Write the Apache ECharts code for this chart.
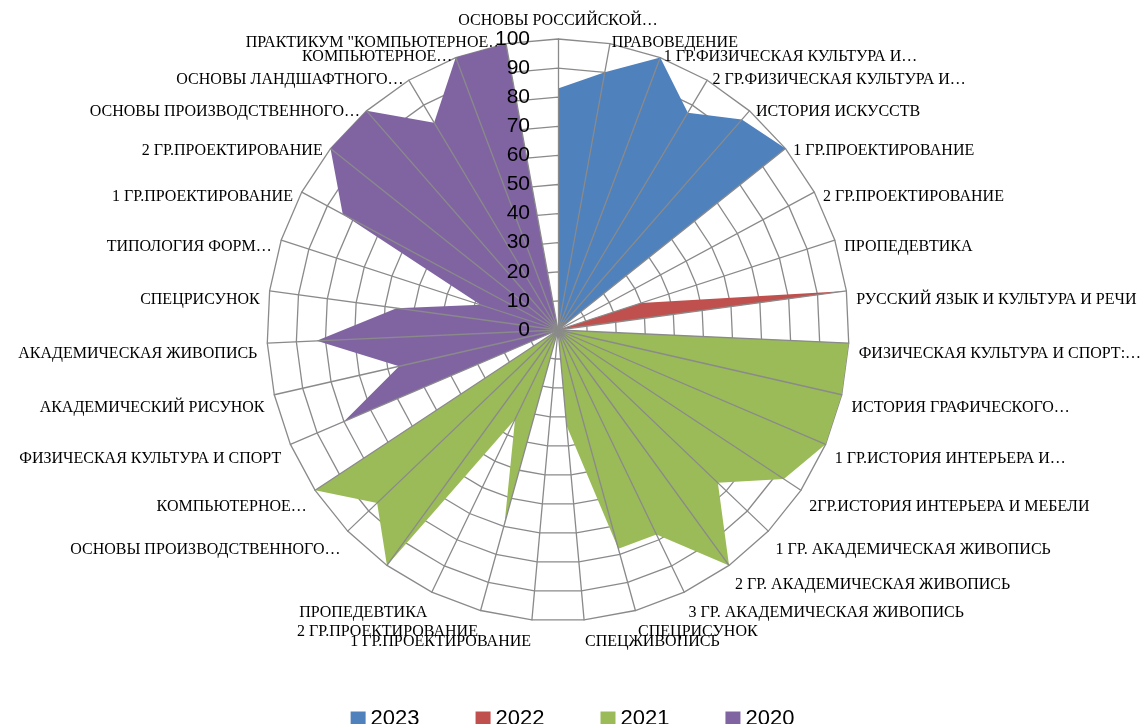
<!DOCTYPE html>
<html>
<head>
<meta charset="utf-8">
<script src="https://cdn.jsdelivr.net/npm/echarts@6/dist/echarts.min.js"></script>
<style>
html,body{margin:0;padding:0;background:#fff;}
#chart{width:1145px;height:724px;}
</style>
</head>
<body>
<div id="chart"></div>
<script>
// Categories in clockwise order starting from the top
const categories = [
  'ОСНОВЫ РОССИЙСКОЙ…', 'ПРАВОВЕДЕНИЕ', '1 ГР.ФИЗИЧЕСКАЯ КУЛЬТУРА И…', '2 ГР.ФИЗИЧЕСКАЯ КУЛЬТУРА И…',
  'ИСТОРИЯ ИСКУССТВ', '1 ГР.ПРОЕКТИРОВАНИЕ', '2 ГР.ПРОЕКТИРОВАНИЕ', 'ПРОПЕДЕВТИКА',
  'РУССКИЙ ЯЗЫК И КУЛЬТУРА И РЕЧИ', 'ФИЗИЧЕСКАЯ КУЛЬТУРА И СПОРТ:…', 'ИСТОРИЯ ГРАФИЧЕСКОГО…',
  '1 ГР.ИСТОРИЯ ИНТЕРЬЕРА И…', '2ГР.ИСТОРИЯ ИНТЕРЬЕРА И МЕБЕЛИ', '1 ГР. АКАДЕМИЧЕСКАЯ ЖИВОПИСЬ',
  '2 ГР. АКАДЕМИЧЕСКАЯ ЖИВОПИСЬ', '3 ГР. АКАДЕМИЧЕСКАЯ ЖИВОПИСЬ', 'СПЕЦРИСУНОК', 'СПЕЦЖИВОПИСЬ',
  '1 ГР.ПРОЕКТИРОВАНИЕ', '2 ГР.ПРОЕКТИРОВАНИЕ', 'ПРОПЕДЕВТИКА', '', 'ОСНОВЫ ПРОИЗВОДСТВЕННОГО…',
  'КОМПЬЮТЕРНОЕ…', 'ФИЗИЧЕСКАЯ КУЛЬТУРА И СПОРТ', 'АКАДЕМИЧЕСКИЙ РИСУНОК', 'АКАДЕМИЧЕСКАЯ ЖИВОПИСЬ',
  'СПЕЦРИСУНОК', 'ТИПОЛОГИЯ ФОРМ…', '1 ГР.ПРОЕКТИРОВАНИЕ', '2 ГР.ПРОЕКТИРОВАНИЕ',
  'ОСНОВЫ ПРОИЗВОДСТВЕННОГО…', 'ОСНОВЫ ЛАНДШАФТНОГО…', 'КОМПЬЮТЕРНОЕ…', 'ПРАКТИКУМ "КОМПЬЮТЕРНОЕ…'
];
const seriesNames = ['2023', '2022', '2021', '2020'];
const v2023 = [83,90,100,87,96,100,0,0,0,0, 0,0,0,0,0,0,0,0,0,0, 0,0,0,0,0,0,0,0,0,0, 0,0,0,0,0];
const v2022 = [0,0,0,0,0,0,0,30,100,0, 0,0,0,0,0,0,0,0,0,0, 0,0,0,0,0,0,0,0,0,0, 0,0,0,0,0];
const v2021 = [0,0,0,0,0,0,0,0,0,100, 100,100,93,76,100,78,78,33,0,69, 34,100,86,100,0,0,0,0,0,0, 0,0,0,0,0];
const v2020 = [0,0,0,0,0,0,0,0,0,0, 0,0,0,0,0,0,0,0,0,0, 0,0,0,0,80,56,83,56,28,84, 100,100,83,100,100];
const axisMin = 0, axisMax = 100, axisSplits = 10;

const colors = ['#4F81BD', '#C0504D', '#9BBB59', '#8064A2'];
const values = [v2023, v2022, v2021, v2020];

// ECharts radar runs counter-clockwise; reorder so the picture runs clockwise
const n = categories.length;
const order = [0];
for (let i = n - 1; i >= 1; i--) order.push(i);

const center = [558, 330];
const radius = 291;

const indicatorsGrid = order.map(function (i) {
  const a = i * 2 * Math.PI / n;
  const c = Math.cos(a);
  const style = i === 0 ? { verticalAlign: 'bottom' } :
    { verticalAlign: 'top', padding: [Math.max(0, 1.5 - 2 * c), 0, 0, 0] };
  return { name: categories[i], min: axisMin, max: axisMax, nameTextStyle: style };
});
const indicatorsSpokes = order.map(function (i, k) {
  const o = { name: '', min: axisMin, max: axisMax };
  if (k === 0) o.axisLabel = { show: true };
  return o;
});

const chart = echarts.init(document.getElementById('chart'), null, { renderer: 'canvas' });
chart.setOption({
  animation: false,
  backgroundColor: '#ffffff',
  color: colors,
  legend: {
    data: seriesNames,
    left: 'center',
    top: 703,
    icon: 'rect',
    itemWidth: 15,
    itemHeight: 15,
    itemGap: 56,
    textStyle: { fontFamily: 'Liberation Sans', fontSize: 22, color: '#000' },
    selectedMode: false
  },
  radar: [
    {
      indicator: indicatorsGrid,
      center: center,
      radius: radius,
      startAngle: 90,
      shape: 'polygon',
      splitNumber: axisSplits,
      nameGap: 10,
      axisName: { show: true, color: '#000', fontFamily: 'Liberation Serif', fontSize: 16, lineHeight: 17 },
      splitLine: { show: true, lineStyle: { color: '#8a8a8a', width: 1.3 } },
      splitArea: { show: false },
      axisLine: { show: false },
      axisTick: { show: false },
      axisLabel: { show: false },
      z: 1
    },
    {
      indicator: indicatorsSpokes,
      center: center,
      radius: radius,
      startAngle: 90,
      shape: 'polygon',
      splitNumber: axisSplits,
      axisName: { show: false },
      splitLine: { show: false },
      splitArea: { show: false },
      axisLine: { show: true, lineStyle: { color: '#8a8a8a', width: 1.3 } },
      axisTick: { show: false },
      axisLabel: { show: false, fontFamily: 'Liberation Sans', fontSize: 21, color: '#000', margin: 28 },
      z: 3
    }
  ],
  series: [{
    type: 'radar',
    radarIndex: 0,
    z: 2,
    symbol: 'none',
    silent: true,
    lineStyle: { width: 0, opacity: 0 },
    data: seriesNames.map(function (name, s) {
      return {
        name: name,
        value: order.map(function (i) { return values[s][i]; }),
        itemStyle: { color: colors[s] },
        areaStyle: { color: colors[s], opacity: 1 },
        lineStyle: { width: 0, opacity: 0 }
      };
    })
  }]
});
</script>
</body>
</html>
